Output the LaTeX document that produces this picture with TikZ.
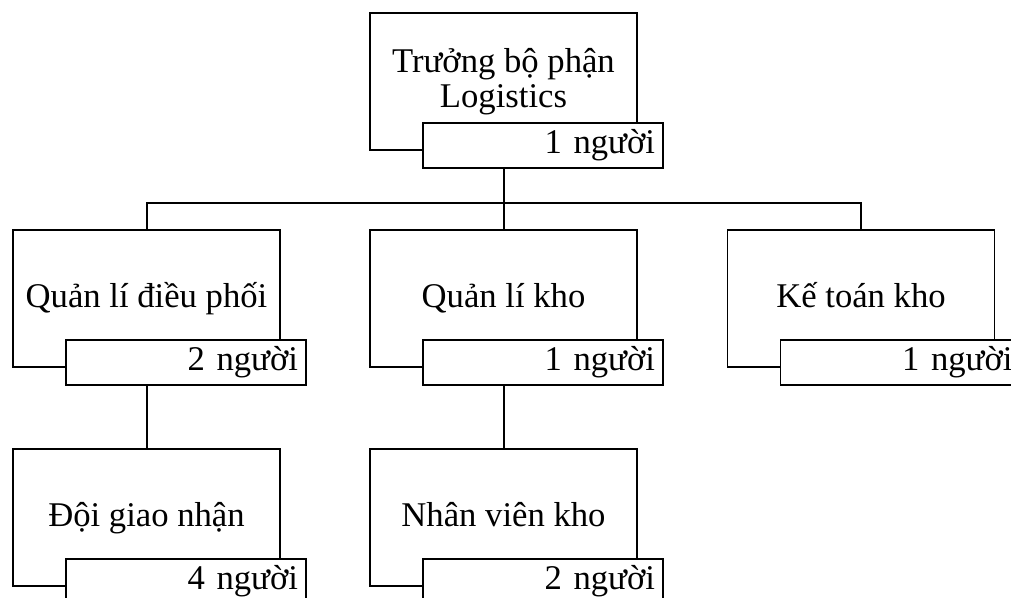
\documentclass[tikz,border=0pt]{standalone}
\usepackage{fontspec}
\setmainfont{Liberation Serif}
\usetikzlibrary{positioning}
\tikzset{
    unitbox/.style={draw, line width=1.3pt, minimum width=200.25pt, minimum height=102.75pt,
      align=center, inner sep=0pt, font=\fontsize{26pt}{26pt}\selectfont},
    oneline/.style={text height=17pt, text depth=3pt},
    countbox/.style={draw, line width=1.3pt, fill=white, minimum height=33.75pt, text width=168pt,
      align=right, inner sep=6pt, text height=16pt, text depth=3pt, anchor=north west,
      font=\fontsize{26pt}{26pt}\selectfont},
    link/.style={line width=1.5pt},
  }
\begin{document}
\begin{tikzpicture}[x=0.75pt,y=-0.75pt]
  \clip (0,0) rectangle (1011,598);
  %boites
  \node[unitbox] (truong) at (503.5,81.5) {Trưởng bộ phận\\Logistics};
  \node[unitbox,oneline] (dieuphoi) at (146.5,298.5) {Quản lí điều phối};
  \node[unitbox,oneline] (kho) at (503.5,298.5) {Quản lí kho};
  \node[unitbox,oneline] (ketoan) at (861,298.5) {Kế toán kho};
  \node[unitbox,oneline] (giaonhan) at (146.5,517.5) {Đội giao nhận};
  \node[unitbox,oneline] (nhanvien) at (503.5,517.5) {Nhân viên kho};
  %nombre de personnes
  \node[countbox] (n_truong) at ([shift={(53,-29)}]truong.south west) {1 người};
  \node[countbox] (n_dieuphoi) at ([shift={(53,-29)}]dieuphoi.south west) {2 người};
  \node[countbox] (n_kho) at ([shift={(53,-29)}]kho.south west) {1 người};
  \node[countbox] (n_ketoan) at ([shift={(53,-29)}]ketoan.south west) {1 người};
  \node[countbox] (n_giaonhan) at ([shift={(53,-29)}]giaonhan.south west) {4 người};
  \node[countbox] (n_nhanvien) at ([shift={(53,-29)}]nhanvien.south west) {2 người};
  %liaisons
  \draw[link] (truong |- n_truong.south) -- ++(0,34) coordinate(bus);
  \draw[link] (dieuphoi.north) |- (bus) -| (ketoan.north);
  \draw[link] (bus) -- (kho.north);
  \draw[link] (dieuphoi |- n_dieuphoi.south) -- (giaonhan.north);
  \draw[link] (kho |- n_kho.south) -- (nhanvien.north);
\end{tikzpicture}
\end{document}
